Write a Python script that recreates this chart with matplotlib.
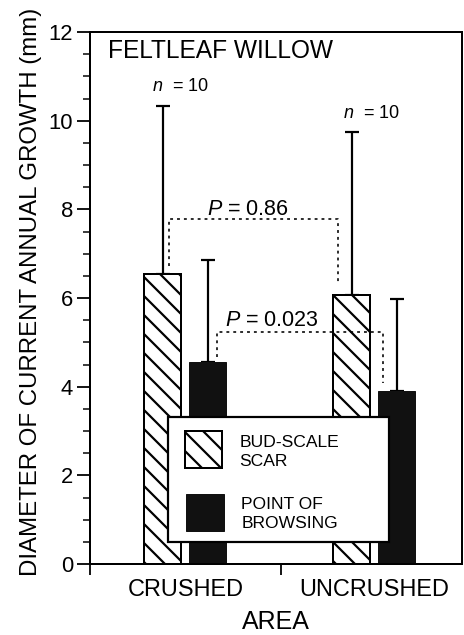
import matplotlib
matplotlib.use("Agg")
import matplotlib.pyplot as plt
from matplotlib.patches import Rectangle

DPI = 114
def px(v):
    return v * 72.0 / DPI

plt.rcParams['font.family'] = ['Liberation Sans', 'DejaVu Sans']
plt.rcParams['mathtext.fontset'] = 'custom'
plt.rcParams['mathtext.rm'] = 'Liberation Sans'
plt.rcParams['mathtext.it'] = 'Liberation Sans:italic'
plt.rcParams['hatch.linewidth'] = px(2.2)
plt.rcParams['hatch.color'] = 'black'

# ---- data ----
areas = ["CRUSHED", "UNCRUSHED"]
series = ["BUD-SCALE\nSCAR", "POINT OF\nBROWSING"]
bud_scale_mean = [6.55, 6.07]
bud_scale_upper = [10.33, 9.75]
browse_mean = [4.56, 3.91]
browse_upper = [6.86, 5.98]
n_labels = ["$n$  = 10", "$n$  = 10"]
p_labels = ["$P$ = 0.86", "$P$ = 0.023"]
yticks = [0, 2, 4, 6, 8, 10, 12]

group_x = [0.5, 1.49]
off = 0.118
width = 0.195

fig = plt.figure(figsize=(465 / DPI, 635 / DPI), dpi=DPI)
ax = fig.add_axes([90 / 465, (635 - 564) / 635, 372 / 465, 532 / 635])
ax.set_xlim(0, 1.95)
ax.set_ylim(0, 12)

xh = [g - off for g in group_x]
xb = [g + off for g in group_x]

ax.bar(xh, bud_scale_mean, width, facecolor='white', edgecolor='black',
       hatch='\\\\', linewidth=px(2), zorder=2)
ax.bar(xb, browse_mean, width, facecolor='#111111', edgecolor='#111111',
       linewidth=px(1), zorder=2)

err_h = [[0, 0], [u - m for u, m in zip(bud_scale_upper, bud_scale_mean)]]
err_b = [[0, 0], [u - m for u, m in zip(browse_upper, browse_mean)]]
ax.errorbar(xh, bud_scale_mean, yerr=err_h, fmt='none', ecolor='black',
            elinewidth=px(2.2), capsize=px(7), capthick=px(2.2), zorder=1)
ax.errorbar(xb, browse_mean, yerr=err_b, fmt='none', ecolor='black',
            elinewidth=px(2.2), capsize=px(7), capthick=px(2.2), zorder=1)

# n labels
ax.text(0.325, 10.76, n_labels[0], fontsize=px(18), ha='left', va='center')
ax.text(1.327, 10.17, n_labels[1], fontsize=px(18), ha='left', va='center')

# significance brackets
dot = dict(color='black', linewidth=px(1.6), linestyle=(0, (1.8, 2.5)), zorder=3)
ax.plot([0.415, 0.415, 1.30, 1.30], [6.72, 7.78, 7.78, 6.33], **dot)
ax.plot([0.665, 0.665, 1.535, 1.535], [4.67, 5.24, 5.24, 4.08], **dot)
ax.text(0.613, 7.99, p_labels[0], fontsize=px(21.5), ha='left', va='center')
ax.text(0.707, 5.50, p_labels[1], fontsize=px(21.5), ha='left', va='center')

ax.text(0.048, 0.965, "FELTLEAF WILLOW", transform=ax.transAxes,
        fontsize=px(24.5), ha='left', va='center')

# legend drawn as a boxed key
ax.add_patch(Rectangle((0.209, 0.041), 0.595, 0.235, transform=ax.transAxes,
                       facecolor='white', edgecolor='black', linewidth=px(2.2),
                       zorder=5))
ax.add_patch(Rectangle((0.255, 0.180), 0.099, 0.070, transform=ax.transAxes,
                       facecolor='white', edgecolor='black', hatch='\\\\',
                       linewidth=px(2), zorder=6))
ax.add_patch(Rectangle((0.257, 0.062), 0.102, 0.070, transform=ax.transAxes,
                       facecolor='#111111', edgecolor='#111111',
                       linewidth=px(1), zorder=6))
ax.text(0.402, 0.2105, series[0], transform=ax.transAxes, fontsize=px(17.5),
        ha='left', va='center', linespacing=1.3, zorder=7)
ax.text(0.407, 0.094, series[1], transform=ax.transAxes, fontsize=px(17.5),
        ha='left', va='center', linespacing=1.3, zorder=7)

# axes styling
for s in ax.spines.values():
    s.set_linewidth(px(2))
ax.set_yticks(yticks)
ax.set_yticks([v + 0.5 for v in range(0, 12)] + [v + 1 for v in range(0, 11, 2)], minor=True)
ax.tick_params(axis='y', which='major', direction='out', length=px(13), width=px(1.8),
               pad=px(4), labelsize=px(22))
ax.tick_params(axis='y', which='minor', direction='out', length=px(7), width=px(1.5))

ax.set_xticks([0, 1], ["", ""])
ax.set_xticks(group_x, areas, minor=True)
ax.tick_params(axis='x', which='major', direction='out', length=px(11), width=px(1.8))
ax.tick_params(axis='x', which='minor', length=0, pad=px(14), labelsize=px(23.5))

ax.set_xlabel("AREA", fontsize=px(25), labelpad=px(9))
ax.set_ylabel("DIAMETER OF CURRENT ANNUAL GROWTH (mm)", fontsize=px(24))
ax.yaxis.set_label_coords(-0.13, 0.511)

fig.savefig("out.png", dpi=DPI)
